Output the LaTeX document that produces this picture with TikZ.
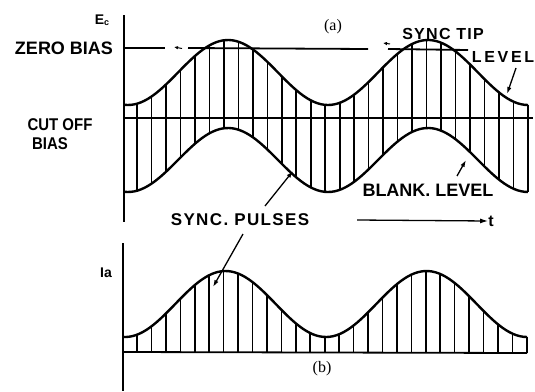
\documentclass[tikz,border=0pt]{standalone}
\usepackage{fontspec}
\setmainfont{Liberation Sans}
\newfontfamily\serifl{Liberation Serif}
\newfontfamily\wide{Liberation Sans}[LetterSpace=8]
\usetikzlibrary{arrows.meta}
\begin{document}
\begin{tikzpicture}[x=1pt,y=-1pt,
  declare function={up(\x)=72.5+32.5*cos(1.8*(\x-128));
                    lo(\x)=160+32*cos(1.8*(\x-128));
                    bb(\x)=304+33*cos(1.791*(\x-125));},
  curve/.style={line width=2.4pt,line join=round},
  hatch/.style={line width=1.6pt},
  axis/.style={line width=1.8pt},
  lab/.style={font=\bfseries\fontsize{14}{14}\selectfont,inner sep=0pt},
  ptr/.style={line width=1.3pt,-{Latex[length=7pt,width=4.5pt]}},
  mk/.style={line width=1pt,-{Latex[length=4pt,width=3.5pt]}}]
\useasboundingbox (0,0) rectangle (535,391);
% upper panel
\draw[axis] (124,15) -- (124,222);
\draw[axis] (124,118) -- (533,118);
\foreach \k in {0,...,27}{
  \pgfmathsetmacro\xx{137+14.48*\k}
  \draw[hatch] (\xx,{up(\xx)}) -- (\xx,{lo(\xx)});
}
\draw[curve] plot[domain=124:528,samples=120] (\x,{up(\x)});
\draw[curve] plot[domain=124:528,samples=120] (\x,{lo(\x)});
% zero bias line
\draw[axis] (124,48) -- (165,48);
\draw[axis] (188,48) -- (368,49);
\draw[axis] (388,49) -- (468,50);
\draw[mk] (182,48.5) -- (174,47);
\draw[mk] (390,44) -- (383,43);
% labels upper
\node[lab,font=\bfseries\fontsize{14}{14}\selectfont] (ec) at (102,20) {E\raisebox{-1.5pt}{\fontsize{9}{9}\selectfont c}};
\node[lab,font=\bfseries\fontsize{18}{18}\selectfont] (zb) at (64,48) {ZERO BIAS};
\node[lab,font=\bfseries\fontsize{17}{17}\selectfont,xscale=0.88] (co) at (60,125) {CUT OFF};
\node[lab,font=\bfseries\fontsize{17}{17}\selectfont,xscale=0.88] (cb) at (50,144) {BIAS};
\node[inner sep=0pt,font=\serifl\fontsize{16}{16}\selectfont] (pa) at (333,27) {(a)};
\node[lab,font=\wide\bfseries\fontsize{16}{16}\selectfont] (st) at (443,34) {SYNC TIP};
\node[lab,font=\bfseries\fontsize{16}{16}\selectfont] (lv) at (503,57) {L\,E\,V\,E\,L};
\node[lab,font=\bfseries\fontsize{18}{18}\selectfont] (bl) at (428,190) {BLANK. LEVEL};
\node[lab,font=\wide\bfseries\fontsize{17}{17}\selectfont] (sp) at (240,220) {SYNC. PULSES};
\coordinate (lvt) at (507,94);
\coordinate (lvs) at (516,68);
\draw[ptr] (lvs) -- (lvt);
\coordinate (bls) at (457,176);
\coordinate (blt) at (466,160);
\draw[ptr] (bls) -- (blt);
\coordinate (sps) at (265,206);
\coordinate (spt) at (293,171);
\draw[ptr] (sps) -- (spt);
\coordinate (sqs) at (243,234);
\coordinate (sqt) at (213,287);
\draw[ptr] (sqs) -- (sqt);
% time arrow
\coordinate (ts) at (357,220);
\node[lab,font=\bfseries\fontsize{16}{16}\selectfont] (tt) at (491,221) {t};
\draw[line width=1.3pt,-{Latex[length=8pt,width=5pt]}] (ts) -- (tt.west);
% lower panel
\draw[axis] (123,243) -- (123,391);
\draw[axis] (123,352) -- (527,353);
\foreach \k in {0,...,27}{
  \pgfmathsetmacro\xx{137+14.44*\k}
  \draw[hatch] (\xx,{bb(\xx)}) -- (\xx,352.5);
}
\draw[curve] plot[domain=123:527,samples=120] (\x,{bb(\x)});
\node[lab,font=\bfseries\fontsize{14}{14}\selectfont] (ia) at (106,273) {Ia};
\node[inner sep=0pt,font=\serifl\fontsize{16}{16}\selectfont] (pb) at (322,369) {(b)};
\end{tikzpicture}
\end{document}
